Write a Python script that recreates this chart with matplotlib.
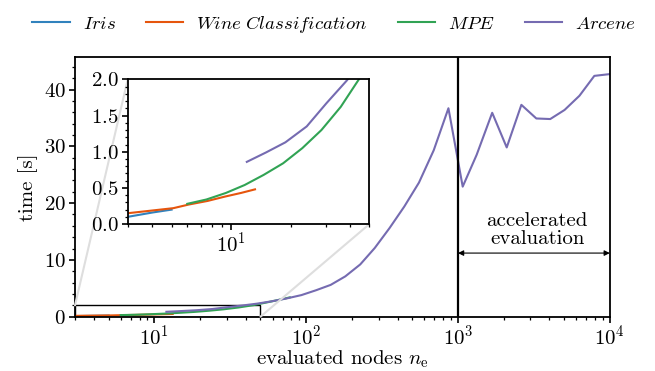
import matplotlib
matplotlib.use("Agg")
import matplotlib.pyplot as plt
from matplotlib.patches import Rectangle, ConnectionPatch
from matplotlib.ticker import AutoMinorLocator

plt.rcParams['font.family'] = 'serif'
plt.rcParams['font.serif'] = ['cmr10']
plt.rcParams['mathtext.fontset'] = 'cm'
plt.rcParams['axes.formatter.use_mathtext'] = True
plt.rcParams['font.size'] = 15
plt.rcParams['axes.linewidth'] = 1.3
plt.rcParams['xtick.major.width'] = 1.2
plt.rcParams['ytick.major.width'] = 1.2
plt.rcParams['xtick.minor.width'] = 0.9
plt.rcParams['ytick.minor.width'] = 0.9
plt.rcParams['xtick.major.size'] = 4
plt.rcParams['ytick.major.size'] = 4
plt.rcParams['xtick.minor.size'] = 2.2
plt.rcParams['ytick.minor.size'] = 2.2
plt.rcParams['xtick.major.pad'] = 1.5
plt.rcParams['ytick.major.pad'] = 2.5

iris_x = [3.0, 4.0, 5.0]
iris_t = [0.10, 0.16, 0.20]

wine_x = [3.0, 5.1, 6.1, 7.6, 9.3, 11.2, 13.2]
wine_t = [0.15, 0.22, 0.27, 0.32, 0.38, 0.43, 0.48]

mpe_x = [6.0, 7.5, 9.4, 11.7, 14.6, 18.3, 22.9, 28.6, 35.8, 44.7, 55.9, 69.8, 78]
mpe_t = [0.28, 0.34, 0.43, 0.54, 0.68, 0.84, 1.05, 1.30, 1.62, 2.02, 2.55, 3.1, 3.4]

arcene_x = [12.0, 15.0, 18.8, 24.1, 30.3, 38.3, 47.6, 59, 74, 93, 116, 145, 181,
            227, 283, 354, 443, 553, 692, 865, 1074, 1327, 1680, 2094, 2615,
            3281, 4052, 5035, 6310, 7907, 9900]
arcene_t = [0.86, 0.99, 1.13, 1.35, 1.67, 1.98, 2.3, 2.7, 3.2, 3.8, 4.65, 5.6, 7.1,
            9.2, 12.1, 15.6, 19.4, 23.6, 29.3, 36.7, 22.9, 28.5, 35.9, 29.8, 37.3,
            34.9, 34.8, 36.4, 38.9, 42.4, 42.7]

series = [
    (r'$Iris$', iris_x, iris_t, '#3182bd'),
    (r'$Wine\ Classification$', wine_x, wine_t, '#e6550d'),
    (r'$MPE$', mpe_x, mpe_t, '#31a354'),
    (r'$Arcene$', arcene_x, arcene_t, '#756bb1'),
]

accel_start = 1e3
accel_end = 1e4
zoom_x = (3, 50)
zoom_t = (0, 2)

fig = plt.figure(figsize=(6.55, 3.71), dpi=100)
ax = fig.add_axes([0.1145, 0.1464, 0.8165, 0.6996])

for label, x, t, c in series:
    ax.plot(x, t, color=c, lw=1.5, label=label)

ax.set_xscale('log')
ax.set_xlim(3, 1e4)
ax.set_ylim(0, 45.7)
ax.yaxis.set_minor_locator(AutoMinorLocator(5))
ax.set_xlabel(r'evaluated nodes $n_\mathrm{e}$', labelpad=0)
ax.set_ylabel('time [s]')

ax.axvline(accel_start, color='black', lw=1.6)
ax.annotate('', xy=(accel_start, 11.2), xytext=(accel_end, 11.2),
            arrowprops=dict(arrowstyle='<|-|>', color='black', lw=0.8,
                            mutation_scale=8, shrinkA=0, shrinkB=0))
ax.text((accel_start * accel_end) ** 0.5 * 1.05, 15.3, 'accelerated\nevaluation',
        ha='center', va='center', linespacing=1.0)

fig.legend(*ax.get_legend_handles_labels(), loc='center',
           bbox_to_anchor=(0.51, 0.935), ncol=4, frameon=False,
           handlelength=2.0, handletextpad=0.7, columnspacing=1.6, fontsize=13.5)

# zoom inset
axins = fig.add_axes([0.195, 0.396, 0.369, 0.390])
for label, x, t, c in series:
    axins.plot(x, t, color=c, lw=1.5)
axins.set_xscale('log')
axins.set_xlim(*zoom_x)
axins.set_ylim(*zoom_t)
axins.set_yticks([0, 0.5, 1.0, 1.5, 2.0])
axins.yaxis.set_minor_locator(AutoMinorLocator(5))
axins.tick_params(axis='x', which='minor', labelbottom=False)

# zoom box and connectors
ax.add_patch(Rectangle((zoom_x[0], zoom_t[0]), zoom_x[1] - zoom_x[0],
                       zoom_t[1] - zoom_t[0], fill=False, edgecolor='black',
                       lw=1.0, zorder=1.5))
for xa, ya, xb, yb in [(zoom_x[0], zoom_t[1], 0, 1), (zoom_x[1], zoom_t[0], 1, 0)]:
    con = ConnectionPatch(xyA=(xa, ya), coordsA=ax.transData,
                          xyB=(xb, yb), coordsB=axins.transAxes,
                          color='0.87', lw=1.5, zorder=1)
    fig.add_artist(con)
axins.set_zorder(3)

fig.savefig('out.png', dpi=100)
